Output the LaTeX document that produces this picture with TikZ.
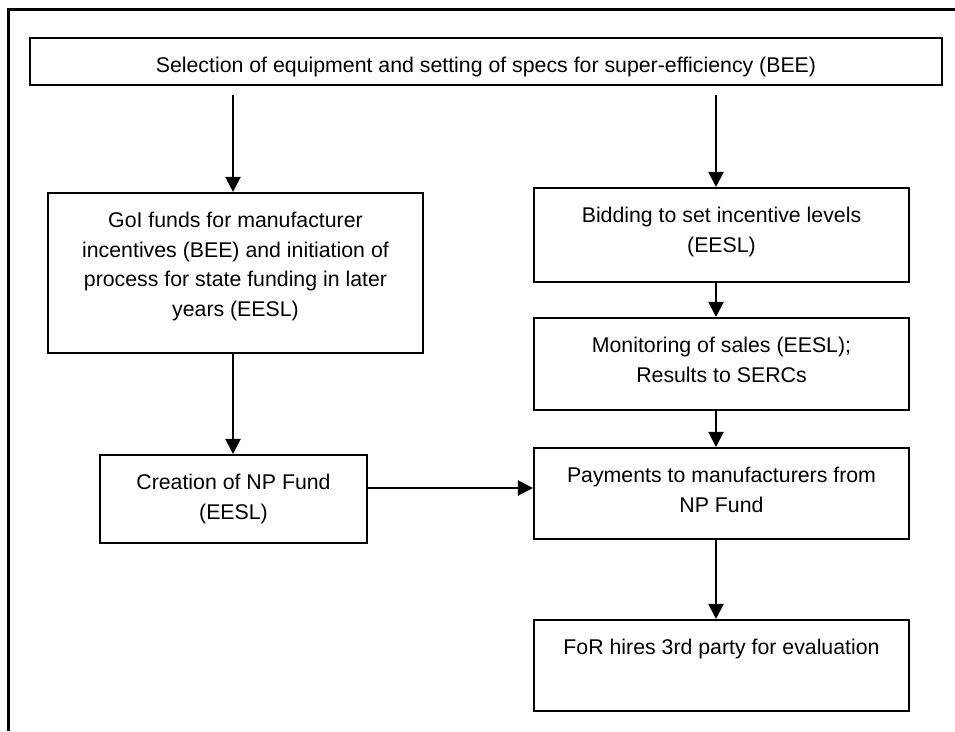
\documentclass[tikz,border=0pt]{standalone}
\usepackage{fontspec}
\setmainfont{Liberation Sans}
\usetikzlibrary{arrows.meta}
\newcommand\bxtext[3]{\parbox[c][#2][t]{#1}{\centering\vspace*{13.85pt}\strut #3\par}}
\begin{document}
\begin{tikzpicture}[x=1pt,y=-1pt,
  box/.style={draw, line width=2.1pt, inner sep=0pt, font=\fontsize{21.3}{29.5}\selectfont},
  arr/.style={line width=2.1pt, -{Triangle[length=15pt,width=15pt]}}]
\useasboundingbox (0,0) rectangle (955,731);
% outer frame (partial)
\draw[line width=2.1pt] (8.5,731) -- (8.5,9.5) -- (955,9.5);
% boxes
\node[box] (top) at (486,61.5) {\bxtext{912pt}{47pt}{Selection of equipment and setting of specs for super-efficiency (BEE)}};
\node[box] (gol) at (235.5,273) {\bxtext{375pt}{160pt}{GoI funds for manufacturer\\ incentives (BEE) and initiation of\\ process for state funding in later\\ years (EESL)}};
\node[box] (cre) at (233.5,499) {\bxtext{267pt}{88pt}{Creation of NP Fund\\ (EESL)}};
\node[box] (bid) at (721.5,235) {\bxtext{375pt}{94pt}{Bidding to set incentive levels\\ (EESL)}};
\node[box] (mon) at (721.5,364) {\bxtext{375pt}{92pt}{Monitoring of sales (EESL);\\ Results to SERCs}};
\node[box] (pay) at (721.5,493.5) {\bxtext{375pt}{91pt}{Payments to manufacturers from\\ NP Fund}};
\node[box] (for) at (721.5,665.5) {\bxtext{375pt}{91pt}{FoR hires 3rd party for evaluation}};
% guide coordinates
\coordinate (xl) at (233,0);
\coordinate (xr) at (716,0);
\coordinate (ya) at (0,488);
% connectors
\draw[arr] (top.south -| xl) ++(0,9) -- (gol.north -| xl);
\draw[arr] (top.south -| xr) ++(0,9) -- (bid.north -| xr);
\draw[arr] (gol.south -| xl) -- (cre.north -| xl);
\draw[arr] (bid.south -| xr) -- (mon.north -| xr);
\draw[arr] (mon.south -| xr) -- (pay.north -| xr);
\draw[arr] (pay.south -| xr) -- (for.north -| xr);
\draw[arr] (cre.east |- ya) -- (pay.west |- ya);
\end{tikzpicture}
\end{document}
